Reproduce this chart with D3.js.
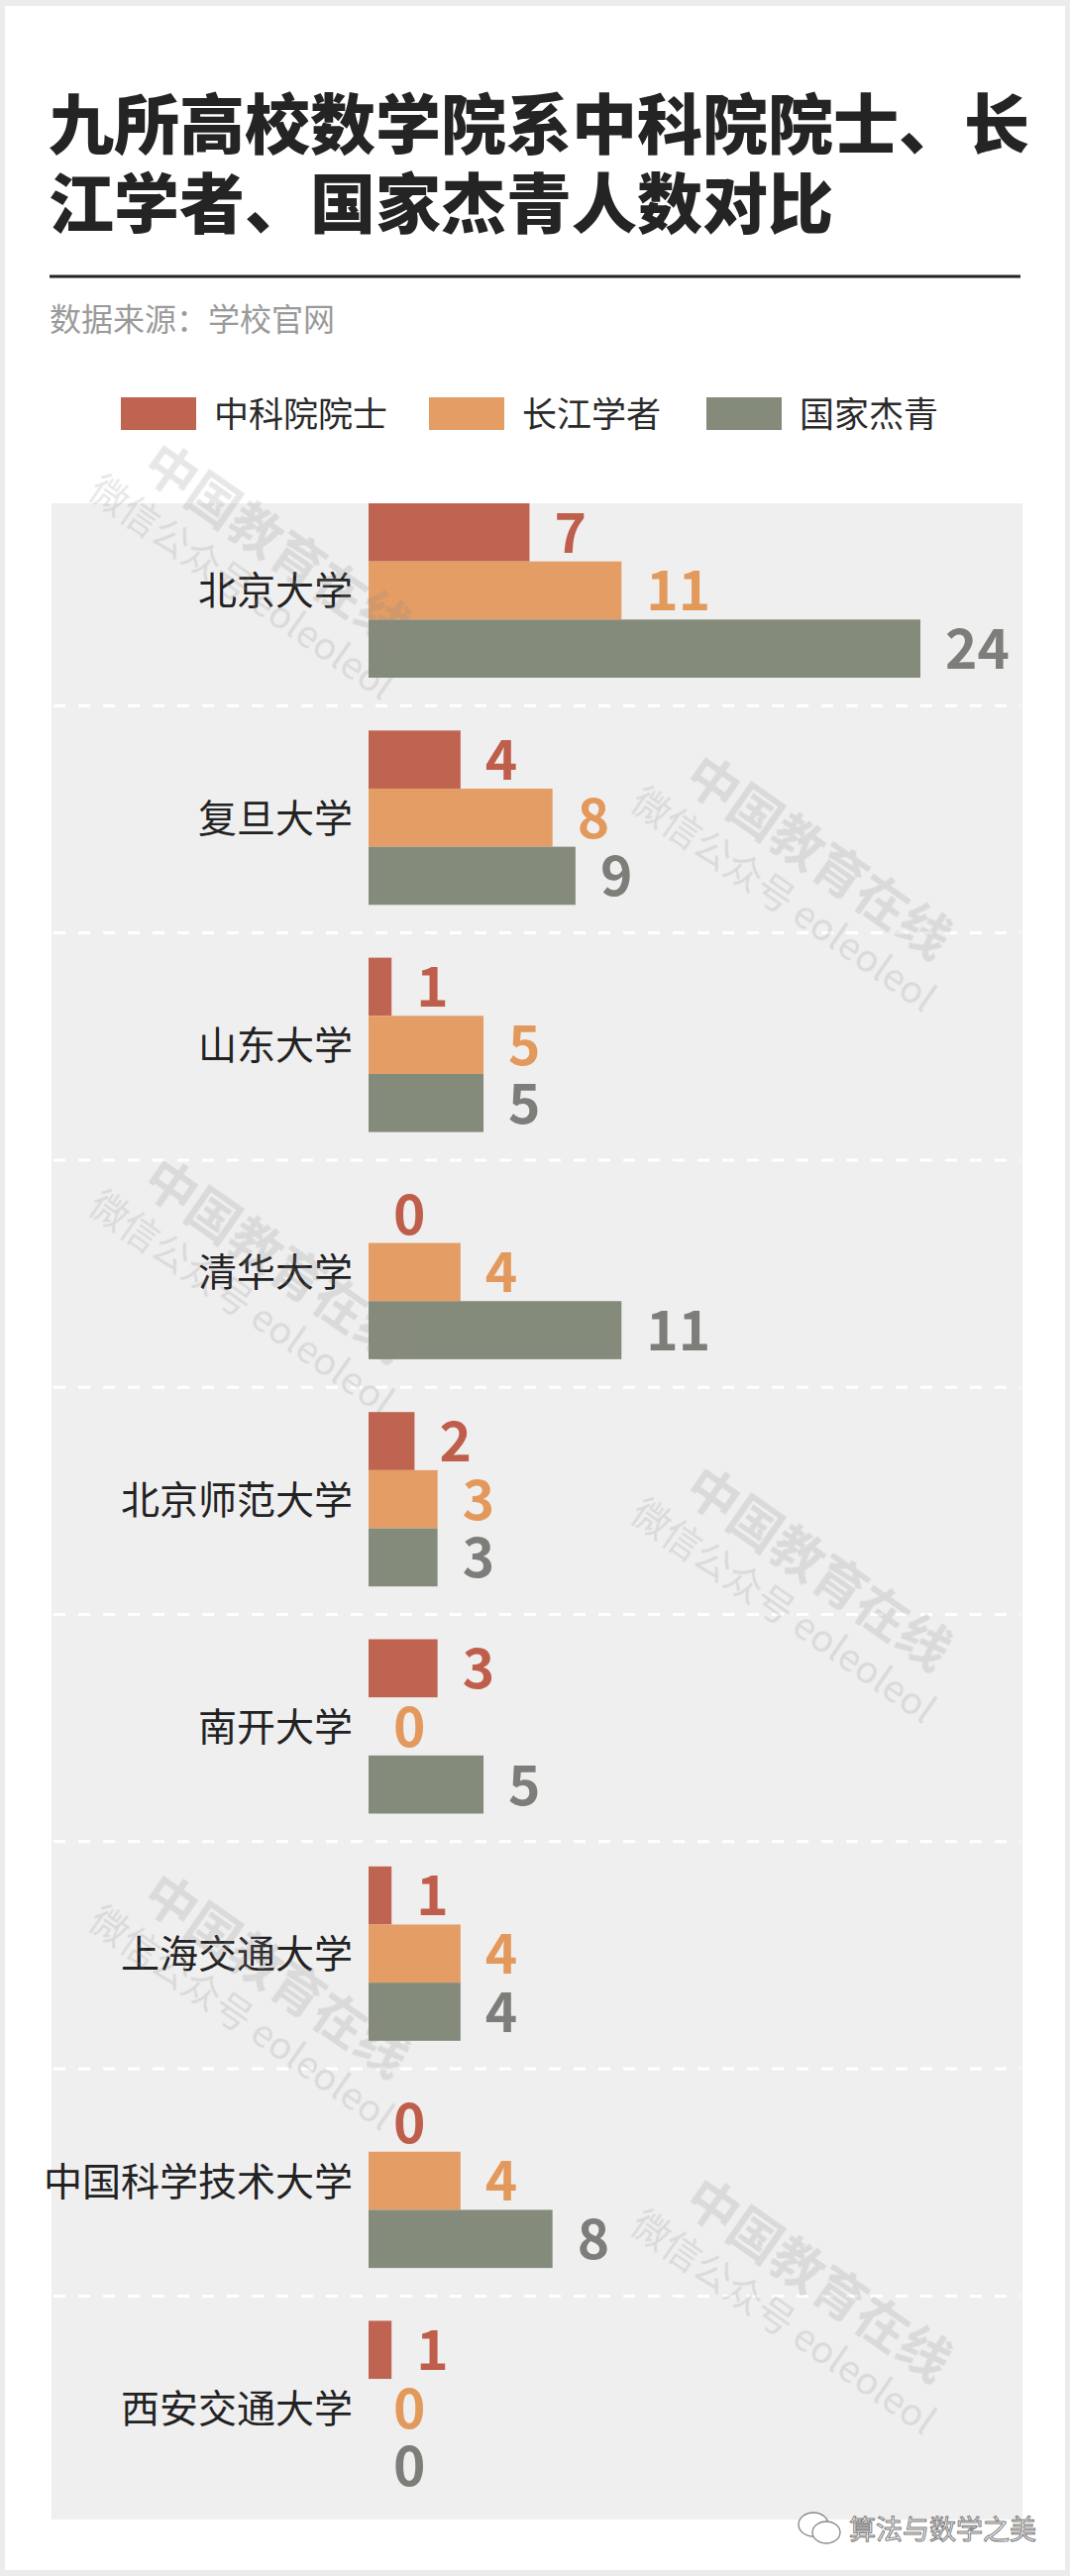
<!DOCTYPE html>
<html>
<head>
<meta charset="utf-8">
<script src="https://cdn.jsdelivr.net/npm/d3@7"></script>
<style>
  body { margin: 0; background: #ececec; }
  svg { display: block; }
</style>
</head>
<body>
<svg id="chart"></svg>
<script>
// data
const universities = ['北京大学', '复旦大学', '山东大学', '清华大学', '北京师范大学', '南开大学', '上海交通大学', '中国科学技术大学', '西安交通大学'];
const seriesNames = ['中科院院士', '长江学者', '国家杰青'];
const academicians = [7, 4, 1, 0, 2, 3, 1, 0, 1];
const changjiang = [11, 8, 5, 4, 3, 0, 4, 4, 0];
const jieqing = [24, 9, 5, 11, 3, 5, 4, 8, 0];

const barColors = ['#c06452', '#e39d65', '#858b7b'];
const labelColors = ['#bf5e4b', '#e3995c', '#7c7e79'];
const FONT = "'Noto Sans CJK SC', 'Noto Sans', sans-serif";

const W = 1080, H = 2600;

const rows = universities.map(function (u, i) {
  return { name: u, values: [academicians[i], changjiang[i], jieqing[i]] };
});

const svg = d3.select('#chart')
  .attr('width', W)
  .attr('height', H)
  .attr('viewBox', [0, 0, W, H]);

// page frame
svg.append('rect').attr('width', W).attr('height', H).attr('fill', '#ececec');
svg.append('rect')
  .attr('x', 5).attr('y', 6)
  .attr('width', W - 10).attr('height', H - 12)
  .attr('fill', '#ffffff');

// title
svg.append('g')
  .attr('font-family', FONT)
  .attr('font-weight', 900)
  .attr('font-size', 66)
  .attr('fill', '#242424')
  .selectAll('text')
  .data(['九所高校数学院系中科院院士、长', '江学者、国家杰青人数对比'])
  .join('text')
    .attr('x', 49)
    .attr('y', function (d, i) { return 150 + i * 80; })
    .text(function (d) { return d; });

svg.append('line')
  .attr('x1', 50).attr('x2', 1030)
  .attr('y1', 279).attr('y2', 279)
  .attr('stroke', '#222').attr('stroke-width', 3);

svg.append('text')
  .attr('x', 50).attr('y', 334)
  .attr('font-family', FONT)
  .attr('font-size', 32)
  .attr('fill', '#9a9a9a')
  .text('数据来源：学校官网');

// legend
const legendX = [122, 433, 713];
const legend = svg.append('g').attr('font-family', FONT);
const li = legend.selectAll('g')
  .data(seriesNames)
  .join('g')
    .attr('transform', function (d, i) { return 'translate(' + legendX[i] + ',401)'; });
li.append('rect')
  .attr('width', 76).attr('height', 33)
  .attr('fill', function (d, i) { return barColors[i]; });
li.append('text')
  .attr('x', 94).attr('y', 30)
  .attr('font-size', 35)
  .attr('fill', '#2a2a2a')
  .text(function (d) { return d; });

// scales
const y0 = d3.scaleBand()
  .domain(universities)
  .range([483, 483 + 9 * 229.3]);

const y1 = d3.scaleBand()
  .domain(seriesNames)
  .range([25, 201]);

const x = d3.scaleLinear()
  .domain([0, 24])
  .range([372, 929]);

// panel
svg.append('rect')
  .attr('x', 52).attr('y', 508)
  .attr('width', 980).attr('height', 2035)
  .attr('fill', '#f0eff0');

svg.append('g')
  .selectAll('line')
  .data(universities.slice(1))
  .join('line')
    .attr('x1', 54).attr('x2', 1030)
    .attr('y1', function (d) { return y0(d); })
    .attr('y2', function (d) { return y0(d); })
    .attr('stroke', '#ffffff')
    .attr('stroke-width', 3)
    .attr('stroke-dasharray', '12 13');

const groups = svg.append('g')
  .selectAll('g')
  .data(rows)
  .join('g')
    .attr('transform', function (d) { return 'translate(0,' + y0(d.name) + ')'; });

groups.append('text')
  .attr('x', 356)
  .attr('y', (y1.range()[0] + y1.range()[1]) / 2 + 0.37 * 39)
  .attr('text-anchor', 'end')
  .attr('font-family', FONT)
  .attr('font-size', 39)
  .attr('fill', '#222')
  .text(function (d) { return d.name; });

groups.selectAll('rect')
  .data(function (d) { return d.values; })
  .join('rect')
    .attr('x', x(0))
    .attr('y', function (d, i) { return y1(seriesNames[i]); })
    .attr('width', function (d) { return x(d) - x(0); })
    .attr('height', y1.bandwidth())
    .attr('fill', function (d, i) { return barColors[i]; });

groups.selectAll('text.val')
  .data(function (d) { return d.values; })
  .join('text')
    .attr('class', 'val')
    .attr('x', function (d) { return x(d) + 25; })
    .attr('y', function (d, i) { return y1(seriesNames[i]) + y1.bandwidth() / 2 + 0.37 * 55; })
    .attr('font-family', FONT)
    .attr('font-weight', 700)
    .attr('font-size', 55)
    .attr('fill', function (d, i) { return labelColors[i]; })
    .text(function (d) { return d; });

// watermarks
const marks = [];
for (let k = 0; k < 4; k++) marks.push([166, 440 + k * 722]);
for (let k = 0; k < 3; k++) marks.push([713, 755 + k * 718]);

const wm = svg.append('g')
  .attr('font-family', FONT)
  .attr('fill', '#888')
  .attr('opacity', 0.2)
  .selectAll('g')
  .data(marks)
  .join('g')
    .attr('transform', function (d) { return 'translate(' + d[0] + ',' + d[1] + ') rotate(35)'; });
wm.append('text')
  .attr('x', 0).attr('y', 44)
  .attr('font-size', 52)
  .attr('font-weight', 700)
  .text('中国教育在线');
wm.append('text')
  .attr('x', -30).attr('y', 94)
  .attr('font-size', 38)
  .text('微信公众号 eoleoleol');

// account badge
const badge = svg.append('g').attr('transform', 'translate(806,2536)');
badge.append('ellipse')
  .attr('cx', 15).attr('cy', 12).attr('rx', 15).attr('ry', 12)
  .attr('fill', '#fff').attr('stroke', '#888').attr('stroke-width', 1.3);
badge.append('ellipse')
  .attr('cx', 28).attr('cy', 20).attr('rx', 14).attr('ry', 11)
  .attr('fill', '#fff').attr('stroke', '#888').attr('stroke-width', 1.3);
badge.append('text')
  .attr('x', 51).attr('y', 27)
  .attr('font-family', FONT)
  .attr('font-size', 27)
  .attr('fill', '#fff')
  .attr('stroke', '#7a7a7a')
  .attr('stroke-width', 1)
  .text('算法与数学之美');
</script>
</body>
</html>
